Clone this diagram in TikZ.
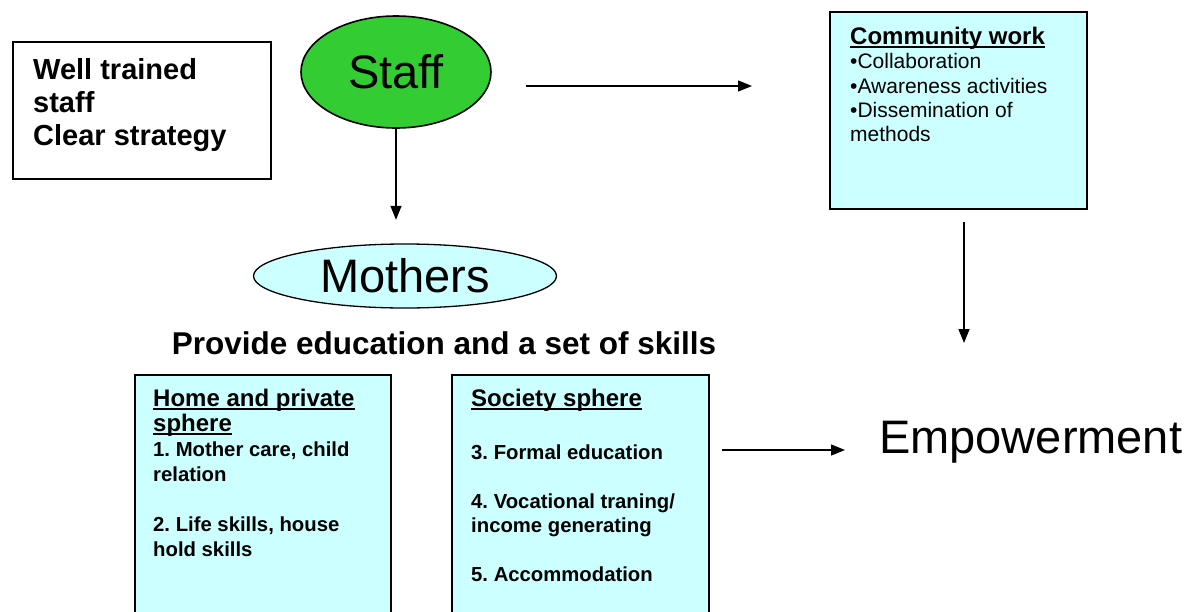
\documentclass[tikz,border=0pt]{standalone}
\usepackage{fontspec}
\setmainfont{Liberation Sans}
\usetikzlibrary{arrows.meta,shapes.geometric,calc}
\definecolor{lcyan}{HTML}{CCFFFF}
\definecolor{sgreen}{HTML}{33CC33}
\newcommand\myul[1]{\setbox0\hbox{#1}\rlap{\rule[-3.5pt]{\wd0}{2pt}}\box0}
\frenchspacing
\tikzset{
  box/.style={draw=black, line width=1.6pt, rectangle, inner sep=0pt, anchor=north west},
  cbox/.style={box, fill=lcyan},
  txt/.style={anchor=north west, inner sep=0pt, align=left},
  arr/.style={line width=1.4pt, -{Triangle[length=14pt,width=11pt]}},
  big/.style={font=\fontsize{47}{50}\selectfont}
}
\begin{document}
\begin{tikzpicture}[x=1pt,y=-1pt]
\clip (0,0) rectangle (1195,611);
\fill[white] (0,0) rectangle (1195,611);
% left box
\node[box, minimum width=258pt, minimum height=137pt] (lbox) at (12,41) {};
\node[txt, font=\bfseries\fontsize{29}{33}\selectfont] (ltxt) at (33,58) {Well trained\\staff\\Clear strategy};
% staff
\node[ellipse, draw=black, line width=1.6pt, fill=sgreen, minimum width=190pt, minimum height=112pt, inner sep=0pt, big] (staff) at (396,72) {Staff};
% community box
\node[cbox, minimum width=257pt, minimum height=197pt] (comm) at (829,11) {};
\node[txt, font=\fontsize{21}{24.3}\selectfont] (ctxt) at (850,27) {{\bfseries\fontsize{24}{24}\selectfont\myul{Community work}}\\•Collaboration\\•Awareness activities\\•Dissemination of\\methods};
% mothers
\node[ellipse, draw=black, line width=1.3pt, fill=lcyan, minimum width=303pt, minimum height=64pt, inner sep=0pt, big] (mothers) at (405,276) {Mothers};
% provide
\node[inner sep=0pt, font=\bfseries\fontsize{31.5}{34}\selectfont] (prov) at (444,343) {Provide education and a set of skills};
% home box
\node[cbox, minimum width=256pt, minimum height=260pt] (home) at (134,374) {};
\node[txt, font=\bfseries\fontsize{20.3}{25}\selectfont] (htxt) at (153,389) {{\fontsize{24}{25}\selectfont\myul{Home and private}}\\{\fontsize{24}{25}\selectfont\myul{sphere}}\\1. Mother care, child\\relation\\[25pt]2. Life skills, house\\hold skills};
% society box
\node[cbox, minimum width=257pt, minimum height=260pt] (soc) at (451,374) {};
\node[txt, font=\bfseries\fontsize{20.3}{24.5}\selectfont] (stxt) at (471,389) {{\fontsize{24}{25}\selectfont\myul{Society sphere}}\\[28pt]3. Formal education\\[24.5pt]4. Vocational traning/\\income generating\\[24.5pt]5. Accommodation};
% empowerment
\node[anchor=west, inner sep=0pt, big] (emp) at (879,442) {Empowerment};
% connectors
\coordinate (a1s) at (526,86);
\coordinate (a1e) at (752,86);
\draw[arr] (a1s) -- (a1e);
\draw[arr] (staff.south) -- ($(staff.south)+(0,91)$) coordinate (a2e);
\coordinate (a3s) at (964,222);
\coordinate (a3e) at (964,343);
\draw[arr] (a3s) -- (a3e);
\coordinate (a4s) at (722,450);
\coordinate (a4e) at (845,450);
\draw[arr] (a4s) -- (a4e);
\end{tikzpicture}
\end{document}
